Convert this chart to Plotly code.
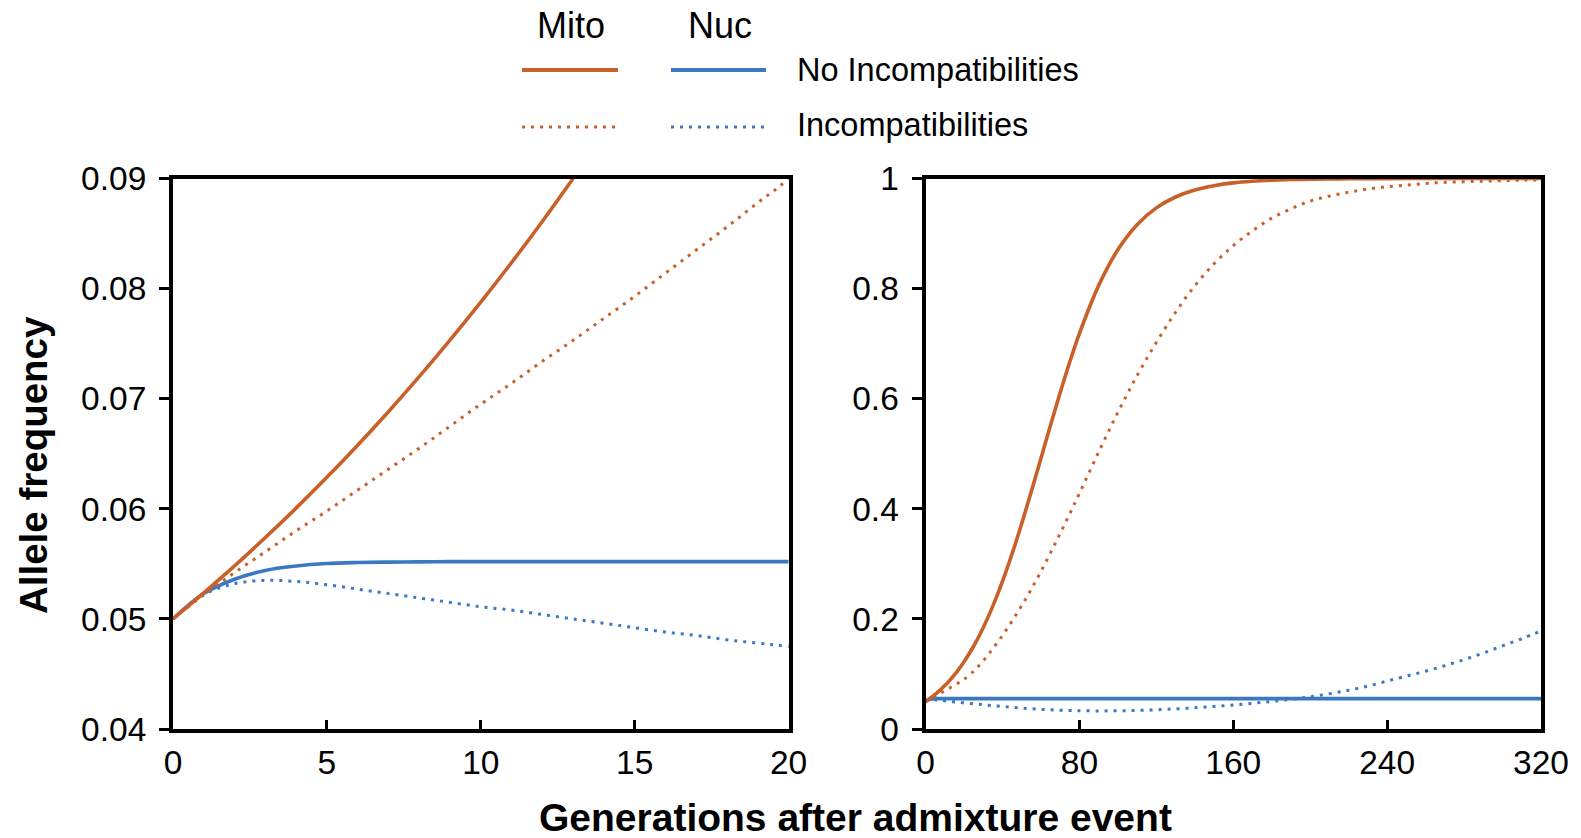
import plotly.graph_objects as go

# ---------------- data ----------------
gens = [0, 1, 2, 3, 4, 5, 6, 7, 8, 9, 10, 11, 12, 13, 14, 15, 16, 17, 18, 19, 20,
        25, 30, 35, 40, 45, 50, 55, 60, 65, 70, 75, 80,
        90, 100, 110, 120, 130, 140, 150, 160, 170, 180, 190, 200, 210, 220, 230,
        240, 250, 260, 270, 280, 290, 300, 310, 320]

mito_no_incompat = [0.05, 0.05236, 0.05481, 0.05739, 0.06006, 0.06286, 0.06578, 0.06882, 0.07200,
                    0.07532, 0.07877, 0.08236, 0.08610, 0.09000, 0.09405, 0.0982, 0.1026, 0.1072,
                    0.1119, 0.1168, 0.1219,
                    0.1503, 0.1840, 0.2232, 0.2681, 0.3182, 0.3729, 0.4312, 0.4914, 0.5519, 0.6107,
                    0.6667, 0.7182,
                    0.8054, 0.8705, 0.9161, 0.9466, 0.9664, 0.9791, 0.9870, 0.9920, 0.9950, 0.9969,
                    0.9981, 0.9988, 0.9992, 0.9995, 0.9997, 0.9998, 0.9999, 0.9999, 1.0, 1.0, 1.0,
                    1.0, 1.0, 1.0]

mito_incompat = [0.05, 0.0522, 0.0542, 0.0561, 0.0580, 0.0598, 0.0617, 0.0636, 0.0655, 0.0675,
                 0.0695, 0.0714, 0.0734, 0.0753, 0.0773, 0.0793, 0.0814, 0.0835, 0.0856, 0.0878,
                 0.0900,
                 0.105, 0.124, 0.146, 0.170, 0.196, 0.224, 0.254, 0.286, 0.320, 0.355, 0.391, 0.428,
                 0.503, 0.575, 0.642, 0.702, 0.757, 0.805, 0.845, 0.878, 0.905, 0.928, 0.945, 0.959,
                 0.968, 0.975, 0.981, 0.985, 0.988, 0.991, 0.993, 0.994, 0.995, 0.996, 0.997, 0.997]

nuc_no_incompat = [0.05, 0.0523, 0.0536, 0.0544, 0.0548, 0.05503, 0.05512, 0.05516, 0.05518, 0.0552,
                   0.0552, 0.0552, 0.0552, 0.0552, 0.0552, 0.0552, 0.0552, 0.0552, 0.0552, 0.0552,
                   0.0552,
                   0.0552, 0.0552, 0.0552, 0.0552, 0.0552, 0.0552, 0.0552, 0.0552, 0.0552, 0.0552,
                   0.0552, 0.0552,
                   0.0552, 0.0552, 0.0552, 0.0552, 0.0552, 0.0552, 0.0552, 0.0552, 0.0552, 0.0552,
                   0.0552, 0.0552, 0.0552, 0.0552, 0.0552, 0.0552, 0.0552, 0.0552, 0.0552, 0.0552,
                   0.0552, 0.0552, 0.0552, 0.0552]

nuc_incompat = [0.05, 0.0522, 0.0532, 0.0535, 0.0534, 0.0531, 0.0527, 0.0523, 0.0519, 0.0515,
                0.0511, 0.0508, 0.0504, 0.0500, 0.0496, 0.0492, 0.0488, 0.0485, 0.0481, 0.0478,
                0.0475,
                0.0458, 0.0441, 0.0425, 0.0409, 0.0394, 0.0380, 0.0368, 0.0357, 0.0348, 0.0341,
                0.0336, 0.0332,
                0.0329, 0.0331, 0.0338, 0.0350, 0.0366, 0.0386, 0.0410, 0.0437, 0.0467, 0.0501,
                0.0539, 0.0585, 0.0640, 0.0705, 0.0780, 0.0870, 0.0960, 0.1050, 0.1150, 0.1260,
                0.1380, 0.1510, 0.1640, 0.1780]

left_yticks = [0.04, 0.05, 0.06, 0.07, 0.08, 0.09]
left_xticks = [0, 5, 10, 15, 20]
right_yticks = [0, 0.2, 0.4, 0.6, 0.8, 1]
right_ytick_labels = ["0", "0.2", "0.4", "0.6", "0.8", "1"]
right_xticks = [0, 80, 160, 240, 320]

legend_cols = ["Mito", "Nuc"]
legend_rows = ["No Incompatibilities", "Incompatibilities"]

# ---------------- style ----------------
ORANGE = "#C8602A"
BLUE = "#3A79BF"
FONT = "Liberation Sans, Arial, Helvetica, sans-serif"
DOT = "3px,6px"
W, H = 1581, 838

fig = go.Figure()

series = [
    (nuc_no_incompat, BLUE, "solid", 3.6),
    (nuc_incompat, BLUE, DOT, 3),
    (mito_incompat, ORANGE, DOT, 3),
    (mito_no_incompat, ORANGE, "solid", 3.6),
]
for xa, ya in [("x", "y"), ("x2", "y2")]:
    for vals, col, dash, w in series:
        fig.add_trace(go.Scatter(x=gens, y=vals, mode="lines", xaxis=xa, yaxis=ya,
                                 line=dict(color=col, dash=dash, width=w, shape="spline", smoothing=1.0),
                                 showlegend=False, hoverinfo="skip"))

def px_x(v):
    return v / W

def px_y(v):
    return 1 - v / H

axis_common = dict(showgrid=False, zeroline=False, showline=True, linecolor="black", linewidth=4,
                   mirror=True, tickcolor="black", tickwidth=3, automargin=False,
                   tickfont=dict(family=FONT, size=33.5, color="black"))

ydom = [px_y(729), px_y(178.5)]
fig.update_layout(
    template="none",
    width=W, height=H, margin=dict(l=0, r=0, t=0, b=0, pad=0), autosize=False,
    paper_bgcolor="white", plot_bgcolor="white",
    xaxis=dict(domain=[px_x(173), px_x(788.5)], range=[0, 20], tickvals=left_xticks,
               ticks="inside", ticklen=9, anchor="y", ticklabelstandoff=1, **axis_common),
    yaxis=dict(domain=ydom, range=[0.04, 0.09], tickvals=left_yticks, tickformat=".2f",
               ticks="outside", ticklen=10, anchor="x", ticklabelstandoff=6, **axis_common),
    xaxis2=dict(domain=[px_x(925.5), px_x(1541)], range=[0, 320], tickvals=right_xticks,
                ticks="inside", ticklen=9, anchor="y2", ticklabelstandoff=1, **axis_common),
    yaxis2=dict(domain=ydom, range=[0, 1], tickvals=right_yticks, ticktext=right_ytick_labels,
                ticks="outside", ticklen=10, anchor="x2", ticklabelstandoff=6, **axis_common),
)

annotations = []
shapes = []
# axis titles
annotations.append(dict(text="<b>Generations after admixture event</b>", x=px_x(856), y=px_y(817),
                        xref="paper", yref="paper", showarrow=False,
                        font=dict(family=FONT, size=39, color="black"), xanchor="center", yanchor="middle"))
annotations.append(dict(text="<b>Allele frequency</b>", x=px_x(33), y=px_y(465), textangle=-90,
                        xref="paper", yref="paper", showarrow=False,
                        font=dict(family=FONT, size=38.5, color="black"), xanchor="center", yanchor="middle"))

# custom legend
col_centers = [571, 720]
for name, cx in zip(legend_cols, col_centers):
    annotations.append(dict(text=name, x=px_x(cx), y=px_y(26), xref="paper", yref="paper",
                            showarrow=False, font=dict(family=FONT, size=36, color="black"),
                            xanchor="center", yanchor="middle"))
row_y = [70, 125]
for label, ry in zip(legend_rows, row_y):
    annotations.append(dict(text=label, x=px_x(795), y=px_y(ry), xref="paper", yref="paper",
                            showarrow=False, font=dict(family=FONT, size=32.5, color="black"),
                            xanchor="left", yanchor="middle"))
seg = [(522, 618, ORANGE), (671, 766, BLUE)]
for (x0, x1, col) in seg:
    shapes.append(dict(type="line", xref="paper", yref="paper", x0=px_x(x0), x1=px_x(x1),
                       y0=px_y(row_y[0]), y1=px_y(row_y[0]), line=dict(color=col, width=4)))
    shapes.append(dict(type="line", xref="paper", yref="paper", x0=px_x(x0), x1=px_x(x1),
                       y0=px_y(row_y[1] + 2), y1=px_y(row_y[1] + 2), line=dict(color=col, width=3, dash=DOT)))

fig.update_layout(annotations=annotations, shapes=shapes)

fig.write_html("out.html", config={"displayModeBar": False},
               post_script="document.body.style.margin='0';")
